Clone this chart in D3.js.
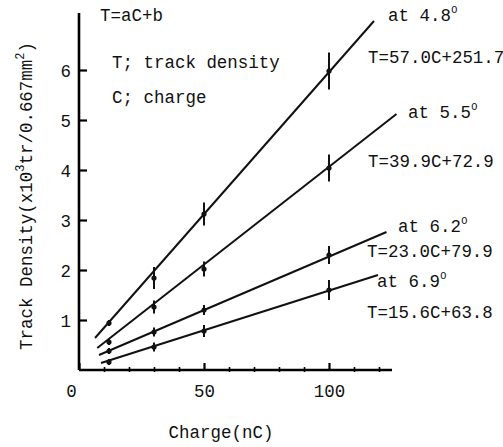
<!DOCTYPE html>
<html><head><meta charset="utf-8">
<script src="https://cdn.jsdelivr.net/npm/d3@7/dist/d3.min.js"></script>
<style>
html,body{margin:0;padding:0;background:#fff;}
text{font-family:"Liberation Mono","DejaVu Sans Mono",monospace;fill:#111;}
</style></head>
<body>
<svg id="chart" width="503" height="447"></svg>
<script>
// ---- data ----
const charges = [12, 30, 50, 100];            // nC
const angles = ["4.8", "5.5", "6.2", "6.9"];   // degrees
const equations = ["T=57.0C+251.7", "T=39.9C+72.9", "T=23.0C+79.9", "T=15.6C+63.8"];
const density48 = [0.94, 1.84, 3.12, 5.98];
const density55 = [0.56, 1.26, 2.02, 4.04];
const density62 = [0.38, 0.76, 1.20, 2.30];
const density69 = [0.16, 0.46, 0.78, 1.60];
const err48 = [0.06, 0.22, 0.23, 0.37];
const err55 = [0.06, 0.13, 0.15, 0.27];
const err62 = [0.06, 0.09, 0.10, 0.18];
const err69 = [0.06, 0.09, 0.12, 0.20];
// fitted lines: [charge, density] at start and end, as drawn
const fitStart = [[6.4, 0.64], [7.3, 0.44], [8.0, 0.30], [8.8, 0.14]];
const fitEnd = [[118, 6.98], [127, 5.12], [123, 2.76], [119.6, 1.90]];
const yTicks = [1, 2, 3, 4, 5, 6];
const xMajorTicks = [0, 50, 100];
const xMinorTicks = [10, 20, 30, 40, 60, 70, 80, 90, 110, 120];
const noteLines = ["T=aC+b", "T; track density", "C; charge"];
const xTitle = "Charge(nC)";

const densities = [density48, density55, density62, density69];
const errors = [err48, err55, err62, err69];

// ---- layout ----
const svg = d3.select("#chart");
const FS = 19, SX = 0.92;
const x = d3.scaleLinear().domain([0, 125.2]).range([79, 392]);
const y = d3.scaleLinear().domain([0, 7.14]).range([370, 13]);

function label(parent, px, py, anchor) {
  return parent.append("text")
    .attr("transform", `translate(${px},${py}) scale(${SX},1)`)
    .attr("text-anchor", anchor || "start")
    .style("font-size", FS + "px");
}

// axes
const yAxis = svg.append("g").attr("transform", `translate(${x(0)},0)`)
  .call(d3.axisLeft(y).tickValues(yTicks).tickFormat(d3.format("d"))
    .tickSizeInner(-8).tickSizeOuter(0).tickPadding(8));
yAxis.select(".domain").attr("d", `M0,${y(0)}V${y(7.14)}`).attr("stroke-width", 2.6);
yAxis.selectAll(".tick line").attr("stroke-width", 2.2);
yAxis.selectAll(".tick text").attr("font-family", null)
  .style("font-size", FS + "px").attr("x", -8 / SX).attr("transform", `scale(${SX},1)`);

const xAxis = svg.append("g").attr("transform", `translate(0,${y(0)})`)
  .call(d3.axisBottom(x).tickValues(xMajorTicks).tickFormat(d3.format("d"))
    .tickSizeInner(-7).tickSizeOuter(0).tickPadding(0));
xAxis.select(".domain").attr("d", `M${x(0)},0H${x(125.2)}`).attr("stroke-width", 2.6);
xAxis.selectAll(".tick line").attr("stroke-width", 2.2);
xAxis.selectAll(".tick text").attr("font-family", null)
  .style("font-size", FS + "px").attr("y", 27).attr("dy", 0)
  .attr("transform", `scale(${SX},1)`)
  .attr("x", d => d === 0 ? -8 / SX : 0);

const xMinor = svg.append("g").attr("transform", `translate(0,${y(0)})`)
  .call(d3.axisBottom(x).tickValues(xMinorTicks).tickFormat("")
    .tickSizeInner(-3).tickSizeOuter(0));
xMinor.select(".domain").remove();
xMinor.selectAll(".tick line").attr("y2", -3).attr("y1", 2).attr("stroke-width", 1.6);

// fit lines
const lineGen = d3.line().x(d => x(d[0])).y(d => y(d[1]));
angles.forEach((a, i) => {
  svg.append("path").attr("d", lineGen([fitStart[i], fitEnd[i]]))
    .attr("fill", "none").attr("stroke", "#111").attr("stroke-width", 2);
});

// points and error bars
densities.forEach((ser, i) => {
  const g = svg.append("g");
  g.selectAll("line.err").data(charges).join("line")
    .attr("x1", d => x(d)).attr("x2", d => x(d))
    .attr("y1", (d, j) => y(ser[j] - errors[i][j]))
    .attr("y2", (d, j) => y(ser[j] + errors[i][j]))
    .attr("stroke", "#111").attr("stroke-width", 2);
  g.selectAll("circle").data(charges).join("circle")
    .attr("cx", d => x(d)).attr("cy", (d, j) => y(ser[j]))
    .attr("r", 2.6).attr("fill", "#111");
});

// angle + equation labels
const angleLabelPos = [[388, 21], [408, 118], [398, 232], [377, 287]];
const eqLabelPos = [[368, 63], [368, 167], [367, 257], [367, 318]];
angles.forEach((a, i) => {
  const t = label(svg, angleLabelPos[i][0], angleLabelPos[i][1]);
  t.append("tspan").text("at " + a);
  t.append("tspan").attr("dy", -8).style("font-size", "12px").text("o");
  label(svg, eqLabelPos[i][0], eqLabelPos[i][1]).text(equations[i]);
});

// notes
const notePos = [[100, 21], [112, 68], [112, 103]];
noteLines.forEach((s, i) => label(svg, notePos[i][0], notePos[i][1]).text(s));

// axis titles
label(svg, 221, 438, "middle").text(xTitle);
const yt = svg.append("text")
  .attr("transform", `translate(32,196) rotate(-90) scale(${SX},1)`)
  .attr("text-anchor", "middle").style("font-size", FS + "px");
yt.append("tspan").text("Track Density(x10");
yt.append("tspan").attr("dy", -8).style("font-size", "13px").text("3");
yt.append("tspan").attr("dy", 8).text("tr/0.667mm");
yt.append("tspan").attr("dy", -8).style("font-size", "13px").text("2");
yt.append("tspan").attr("dy", 8).text(")");
</script>
</body></html>
